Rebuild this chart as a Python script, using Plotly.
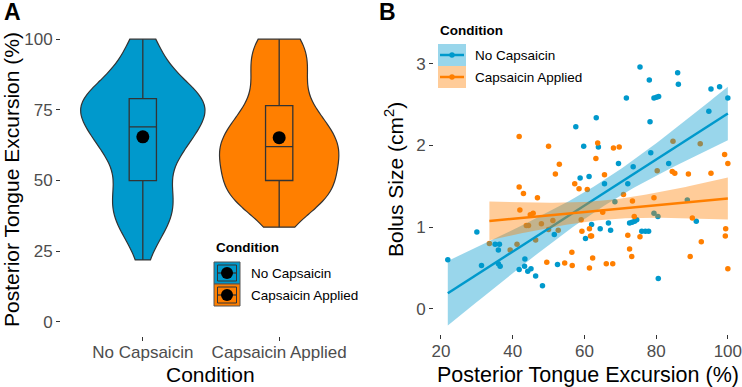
import numpy as np
import plotly.graph_objects as go

# ---------------- data ----------------
categories = ["No Capsaicin", "Capsaicin Applied"]

no_cap_pte = [21.9, 30.0, 31.3, 35.1, 36.3, 36.0, 36.0, 36.5, 41.8, 43.4, 43.3, 44.2, 45.1, 46.4, 48.3,
              51.6, 52.5, 57.6, 58.8, 59.8, 60.3, 61.3, 62.0, 63.3, 63.9, 64.4, 65.6, 66.7, 67.3, 68.5,
              69.5, 71.7, 72.1, 72.6, 73.3, 73.6, 74.0, 74.6, 75.5, 76.0, 77.0, 77.9, 78.1, 78.3, 78.5,
              79.4, 80.1, 80.7, 79.4, 80.5, 80.6, 83.5, 86.0, 86.2, 88.7, 91.2, 94.7, 95.3, 97.7, 100.0]
no_cap_bolus = [0.60, 0.94, 0.53, 0.79, 0.79, 0.72, 0.55, 0.52, 0.48, 0.61, 0.52, 0.46, 0.49, 0.40, 0.28,
                0.91, 0.54, 2.23, 1.60, 1.99, 0.86, 1.62, 1.03, 2.34, 1.98, 0.98, 1.53, 1.05, 0.96, 1.31,
                1.78, 2.58, 1.53, 1.05, 1.06, 1.74, 1.07, 1.09, 2.96, 0.95, 0.95, 0.95, 2.80, 2.29, 1.91,
                2.58, 2.59, 2.60, 1.17, 1.13, 0.37, 1.78, 2.89, 2.75, 1.33, 1.07, 2.42, 2.69, 2.72, 2.58]

cap_pte = [33.5, 39.3, 41.2, 41.8, 41.8, 42.0, 43.0, 43.8, 44.4, 44.9, 45.7, 46.4, 46.9, 48.0, 49.5,
           50.0, 50.0, 51.2, 51.9, 52.7, 53.0, 54.5, 56.5, 56.6, 57.3, 58.5, 59.1, 59.3, 60.8, 61.4,
           61.4, 61.7, 62.0, 62.3, 63.2, 63.7, 65.1, 65.6, 66.1, 67.9, 68.1, 69.7, 70.9, 72.1, 72.6,
           73.2, 73.4, 73.9, 75.5, 79.4, 80.3, 84.7, 84.5, 85.2, 89.0, 89.5, 90.1, 92.3, 92.6, 95.3,
           99.1, 99.3, 99.4, 100.0, 100.0]
cap_bolus = [0.80, 0.72, 0.79, 2.11, 1.49, 1.21, 1.41, 1.02, 1.02, 1.15, 1.17, 0.84, 1.36, 1.04, 0.57,
             1.99, 0.97, 1.08, 1.65, 0.96, 1.77, 0.56, 0.69, 0.53, 1.53, 1.47, 1.09, 0.95, 1.46, 0.50,
             0.98, 0.89, 0.89, 0.62, 1.84, 2.03, 1.18, 1.64, 0.55, 0.55, 1.97, 1.98, 1.40, 0.90, 0.73,
             0.64, 1.32, 1.13, 0.88, 1.36, 1.69, 2.05, 1.68, 1.66, 1.65, 0.64, 1.11, 2.02, 0.82, 1.66,
             1.89, 0.89, 0.98, 1.78, 0.49]

y_ticks_a = [0, 25, 50, 75, 100]
y_ticks_b = [0, 1, 2, 3]
x_ticks_b = [20, 40, 60, 80, 100]

# ---------------- style ----------------
W, H = 742, 387
BLUE = "#0099CC"
ORANGE = "#FF7F00"
BLUE_RIB = "rgba(0,153,204,0.4)"
ORANGE_RIB = "rgba(255,127,0,0.4)"
OUTLINE = "#333333"
FONT = "Liberation Sans, Arial, sans-serif"
TICKC = "#4D4D4D"


def px(x):
    return x / W


def py(y):
    return 1 - y / H


def bw_nrd0(v):
    v = np.asarray(v, float)
    sd = v.std(ddof=1)
    q75, q25 = np.percentile(v, [75, 25])
    lo = min(sd, (q75 - q25) / 1.34)
    return 0.9 * lo * len(v) ** -0.2


def t_quant(df):
    z = 1.959964
    return z + (z ** 3 + z) / (4 * df) + (5 * z ** 5 + 16 * z ** 3 + 3 * z) / (96 * df ** 2)


def lm_fit(x, y):
    x = np.asarray(x, float)
    y = np.asarray(y, float)
    n = len(x)
    b1, b0 = np.polyfit(x, y, 1)
    xs = np.linspace(x.min(), x.max(), 80)
    yh = b0 + b1 * xs
    res = y - (b0 + b1 * x)
    s = np.sqrt(np.sum(res ** 2) / (n - 2))
    xm = x.mean()
    se = s * np.sqrt(1 / n + (xs - xm) ** 2 / np.sum((x - xm) ** 2))
    t = t_quant(n - 2)
    return xs, yh, yh - t * se, yh + t * se


fig = go.Figure()

# ---------------- panel A ----------------
groups_a = [(categories[0], no_cap_pte, BLUE, 0.91), (categories[1], cap_pte, ORANGE, 0.875)]
for cat, vals, col, wid in groups_a:
    fig.add_trace(go.Violin(
        x=[cat] * len(vals), y=vals, fillcolor=col, line=dict(color=OUTLINE, width=1.2),
        spanmode="hard", bandwidth=bw_nrd0(vals), width=wid, scalemode="width",
        points=False, box_visible=False, meanline_visible=False, opacity=1,
        showlegend=False, hoverinfo="skip", xaxis="x", yaxis="y"))
for cat, vals, col, wid in groups_a:
    fig.add_trace(go.Box(
        x=[cat] * len(vals), y=vals, fillcolor=col, line=dict(color=OUTLINE, width=1.3),
        width=0.2, boxpoints=False, whiskerwidth=0, quartilemethod="linear",
        showlegend=False, hoverinfo="skip", xaxis="x", yaxis="y"))
for cat, vals, col, wid in groups_a:
    fig.add_trace(go.Scatter(
        x=[cat], y=[float(np.mean(vals))], mode="markers",
        marker=dict(color="black", size=13), showlegend=False, hoverinfo="skip",
        xaxis="x", yaxis="y"))

# ---------------- panel B ----------------
groups_b = [(no_cap_pte, no_cap_bolus, BLUE, BLUE_RIB), (cap_pte, cap_bolus, ORANGE, ORANGE_RIB)]
for xv, yv, col, rib in groups_b:
    fig.add_trace(go.Scatter(
        x=xv, y=yv, mode="markers", marker=dict(color=col, size=5.5),
        showlegend=False, hoverinfo="skip", xaxis="x2", yaxis="y2"))
for xv, yv, col, rib in groups_b:
    xs, yh, lo, hi = lm_fit(xv, yv)
    fig.add_trace(go.Scatter(
        x=np.concatenate([xs, xs[::-1]]), y=np.concatenate([hi, lo[::-1]]),
        mode="lines", fill="toself", fillcolor=rib, line=dict(width=0),
        showlegend=False, hoverinfo="skip", xaxis="x2", yaxis="y2"))
    fig.add_trace(go.Scatter(
        x=xs, y=yh, mode="lines", line=dict(color=col, width=2.5),
        showlegend=False, hoverinfo="skip", xaxis="x2", yaxis="y2"))

axis_common = dict(showline=False, showgrid=False, zeroline=False, ticks="outside",
                   ticklen=4, tickwidth=1, tickcolor=OUTLINE, automargin=False,
                   ticklabeloverflow="allow",
                   tickfont=dict(family=FONT, size=17, color=TICKC))

fig.update_layout(
    width=W, height=H, margin=dict(l=0, r=0, t=0, b=0, autoexpand=False),
    paper_bgcolor="white", plot_bgcolor="white",
    violinmode="overlay", boxmode="overlay", showlegend=False,
    font=dict(family=FONT),
    xaxis=dict(domain=[px(61), px(361)], type="category", categoryorder="array",
               categoryarray=categories, range=[-0.6, 1.6], anchor="y",
               ticklabelstandoff=-3, **axis_common),
    yaxis=dict(domain=[py(336), py(25)], range=[-5, 105], tickvals=y_ticks_a,
               anchor="x", **axis_common),
    xaxis2=dict(domain=[px(434), 1.0], range=[18.05, 103.95], tickvals=x_ticks_b,
                anchor="y2", ticklabelstandoff=-2, **axis_common),
    yaxis2=dict(domain=[py(334), py(54)], range=[-0.31, 3.12], tickvals=y_ticks_b,
                anchor="x2", **axis_common),
)

ann = []


def text(x, y, s, size, bold=False, angle=0, xanchor="center", color="black"):
    ann.append(dict(x=px(x), y=py(y), xref="paper", yref="paper", text=(f"<b>{s}</b>" if bold else s),
                    showarrow=False, xanchor=xanchor, yanchor="middle", textangle=angle,
                    font=dict(family=FONT, size=size, color=color)))


text(2, 12, "A", 23, bold=True, xanchor="left")
text(377, 12, "B", 23, bold=True, xanchor="left")
text(12, 180, "Posterior Tongue Excursion (%)", 21, angle=-90)
text(210, 374, "Condition", 21)
text(394, 180, "Bolus Size (cm<sup>2</sup>)", 21, angle=-90)
text(588, 375, "Posterior Tongue Excursion (%)", 21.5)

# legend A
text(214, 248, "Condition", 13.5, bold=True, xanchor="left")
shapes = []
cols = [BLUE, ORANGE]
for i, cat in enumerate(categories):
    y0 = 262 + i * 22
    shapes.append(dict(type="rect", xref="paper", yref="paper", x0=px(214), x1=px(240),
                       y0=py(y0), y1=py(y0 + 22), fillcolor=cols[i],
                       line=dict(color="#555555", width=1)))
    shapes.append(dict(type="rect", xref="paper", yref="paper", x0=px(217.5), x1=px(236.5),
                       y0=py(y0 + 3), y1=py(y0 + 19), fillcolor=cols[i],
                       line=dict(color=OUTLINE, width=1)))
    shapes.append(dict(type="line", xref="paper", yref="paper", x0=px(217.5), x1=px(236.5),
                       y0=py(y0 + 11), y1=py(y0 + 11), line=dict(color=OUTLINE, width=1.3)))
    shapes.append(dict(type="circle", xref="paper", yref="paper", x0=px(221), x1=px(233),
                       y0=py(y0 + 5), y1=py(y0 + 17), fillcolor="black",
                       line=dict(color="black", width=0)))
    text(249, y0 + 11, cat, 13.5, xanchor="left")

# legend B
text(438, 31, "Condition", 13.5, bold=True, xanchor="left")
ribs = [BLUE_RIB, ORANGE_RIB]
for i, cat in enumerate(categories):
    y0 = 44 + i * 22
    shapes.append(dict(type="rect", xref="paper", yref="paper", x0=px(438), x1=px(466),
                       y0=py(y0), y1=py(y0 + 22), fillcolor=ribs[i], line=dict(width=0)))
    shapes.append(dict(type="line", xref="paper", yref="paper", x0=px(440), x1=px(464),
                       y0=py(y0 + 11), y1=py(y0 + 11), line=dict(color=cols[i], width=2.5)))
    shapes.append(dict(type="circle", xref="paper", yref="paper", x0=px(449.3), x1=px(454.7),
                       y0=py(y0 + 8.3), y1=py(y0 + 13.7), fillcolor=cols[i],
                       line=dict(width=0)))
    text(473, y0 + 11, cat, 13.5, xanchor="left")

fig.update_layout(annotations=ann, shapes=shapes)
fig.write_html("out.html", config={"displayModeBar": False},
               post_script="document.body.style.margin='0';document.body.style.overflow='hidden';")
